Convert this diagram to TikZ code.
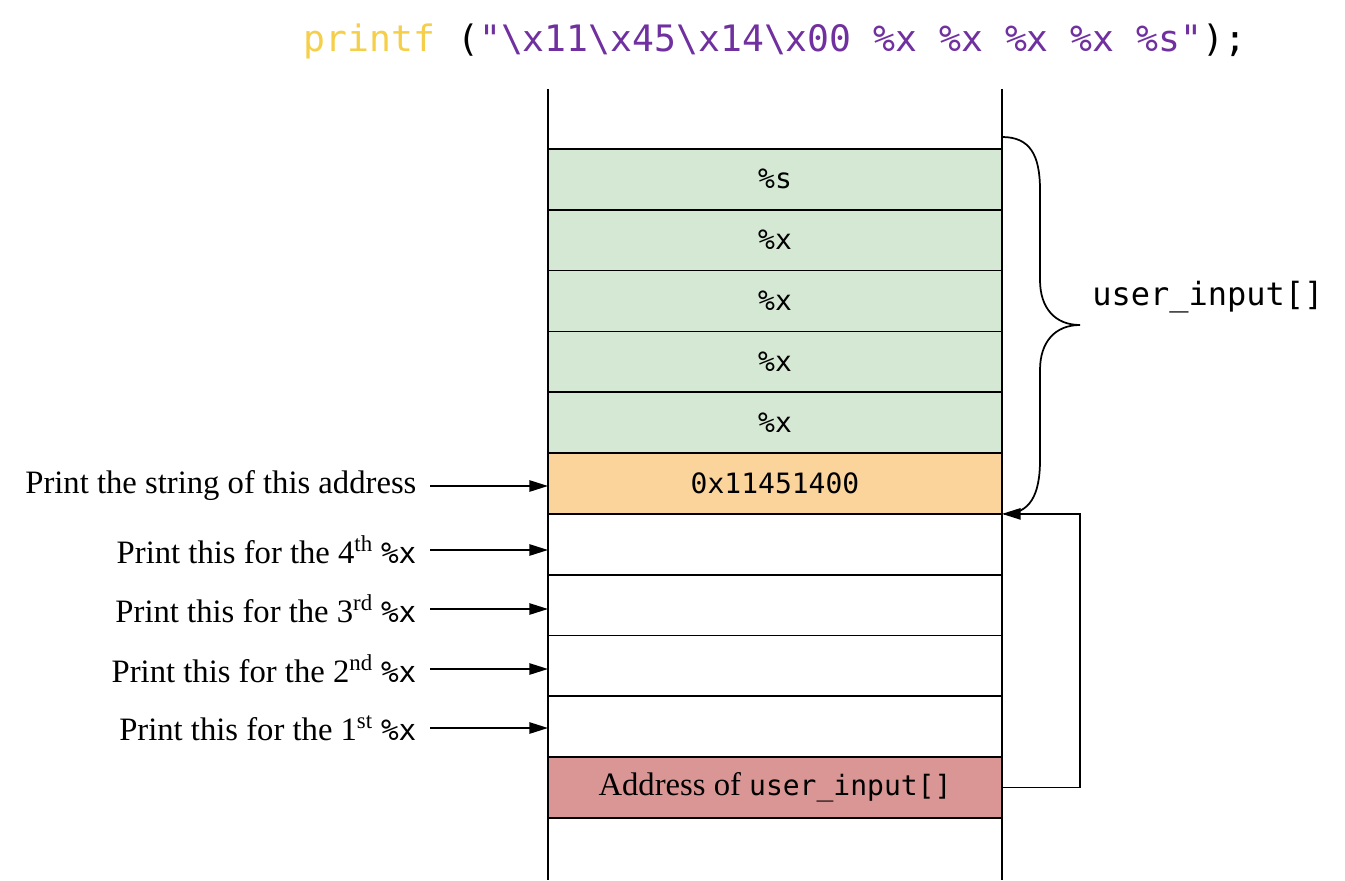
\documentclass[tikz,border=0pt]{standalone}
\usepackage{fontspec}
\setmainfont{Liberation Serif}
\setmonofont{DejaVu Sans Mono}
\usetikzlibrary{arrows.meta}
\definecolor{cgreen}{HTML}{D5E8D4}
\definecolor{corange}{HTML}{FAD49B}
\definecolor{cred}{HTML}{DA9694}
\definecolor{cyel}{HTML}{F5CF4A}
\definecolor{cpur}{HTML}{7030A0}
\tikzset{
  cell/.style={draw, line width=1.3pt, minimum width=340.5pt, minimum height=45.6pt,
    inner sep=0pt, outer sep=0pt, anchor=north west,
    font=\fontsize{21}{25}\selectfont\ttfamily},
  lbl/.style={anchor=east, inner xsep=10pt, inner ysep=0pt,
    font=\fontsize{24.5}{28}\selectfont},
  arr/.style={line width=1.3pt, -{Triangle[length=14pt,width=8.5pt]}},
  wall/.style={line width=1.3pt},
}
\begin{document}
\begin{tikzpicture}[x=0.75pt,y=-0.75pt]
\useasboundingbox (0,0) rectangle (1345,881);
% title
\node[font=\fontsize{27.3}{31}\selectfont\ttfamily] (title) at (775,41)
  {{\color{cyel}printf} ({\color{cpur}"\textbackslash x11\textbackslash x45\textbackslash x14\textbackslash x00 \%x \%x \%x \%x \%s"});};
% stack walls
\coordinate (wl1) at (548,89);
\coordinate (wl2) at (548,880);
\coordinate (wr1) at (1002,89);
\coordinate (wr2) at (1002,880);
\draw[wall] (wl1) -- (wl2);
\draw[wall] (wr1) -- (wr2);
% cells
\node[cell, fill=cgreen]  (r1)  at (548,149.0) {\%s};
\node[cell, fill=cgreen]  (r2)  at (548,209.8) {\%x};
\node[cell, fill=cgreen]  (r3)  at (548,270.6) {\%x};
\node[cell, fill=cgreen]  (r4)  at (548,331.5) {\%x};
\node[cell, fill=cgreen]  (r5)  at (548,392.3) {\%x};
\node[cell, fill=corange] (r6)  at (548,453.1) {0x11451400};
\node[cell, fill=white]   (r7)  at (548,513.9) {};
\node[cell, fill=white]   (r8)  at (548,574.7) {};
\node[cell, fill=white]   (r9)  at (548,635.5) {};
\node[cell, fill=white]   (r10) at (548,696.4) {};
\node[cell, fill=cred]    (r11) at (548,757.2) {{\rmfamily\fontsize{24.5}{28}\selectfont Address of }user\_input[]};
% labels
\node[lbl] (l6)  at (430,486) {Print the string of this address};
\node[lbl] (l7)  at (430,550) {Print this for the 4\textsuperscript{th} {\ttfamily\fontsize{22}{26}\selectfont\%x}};
\node[lbl] (l8)  at (430,609) {Print this for the 3\textsuperscript{rd} {\ttfamily\fontsize{22}{26}\selectfont\%x}};
\node[lbl] (l9)  at (430,669) {Print this for the 2\textsuperscript{nd} {\ttfamily\fontsize{22}{26}\selectfont\%x}};
\node[lbl] (l10) at (430,728) {Print this for the 1\textsuperscript{st} {\ttfamily\fontsize{22}{26}\selectfont\%x}};
\foreach \i in {6,7,8,9,10} {
  \draw[arr] (l\i.east) -- (l\i.east -| r\i.west);
}
% brace
\draw[line width=1.3pt] (1002,137) .. controls (1030,137) and (1040,155) .. (1040,190)
  -- (1040,280) .. controls (1040,308) and (1055,325) .. (1080,325)
  .. controls (1055,325) and (1040,342) .. (1040,370)
  -- (1040,460) .. controls (1040,495) and (1030,514) .. (1004,514);
\node[anchor=west, inner sep=0pt, font=\fontsize{24}{28}\selectfont\ttfamily] (ui) at (1092,297) {user\_input[]};
% pointer back
\coordinate (bend) at (1080,790);
\draw[arr] (r11.east) -- (r11.east -| bend) |- (r6.south east);
\end{tikzpicture}
\end{document}
